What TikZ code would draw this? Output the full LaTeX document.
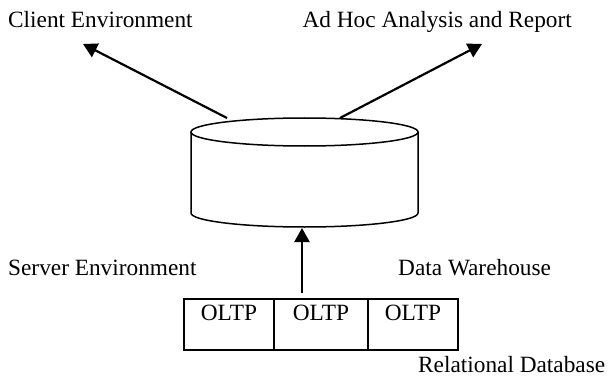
\documentclass[tikz,border=0pt]{standalone}
\usepackage{fontspec}
\setmainfont{Liberation Serif}
\usetikzlibrary{arrows.meta}
\begin{document}
\begin{tikzpicture}[x=1pt,y=-1pt,
  lbl/.style={anchor=base west,inner sep=0pt,font=\fontsize{23.3}{26}\selectfont},
  cell/.style={draw,line width=1.8pt,minimum width=#1,minimum height=51pt,inner sep=0pt,anchor=north west},
  arr/.style={line width=2.2pt,-{Triangle[length=14pt,width=15pt]}},
  db/.style={line width=1.5pt}]
\useasboundingbox (0,0) rectangle (610,377);

% labels
\node[lbl] (client) at (8,28) {Client Environment};
\node[lbl,anchor=base east] (adhoc) at (572,28) {Ad Hoc Analysis and Report};
\node[lbl] (server) at (8,275) {Server Environment};
\node[lbl] (dw) at (398,275) {Data Warehouse};
\node[lbl] (rdb) at (418,372) {Relational Database};

% data warehouse cylinder
\draw[db,fill=white] (191,132) -- (191,213)
  arc[start angle=180,end angle=0,x radius=113.5,y radius=14] -- (418,132);
\draw[db] (304.5,132) ellipse[x radius=113.5,y radius=14];
\coordinate (dbleft) at (227,118);
\coordinate (dbright) at (340,118);
\coordinate (dbbottom) at (302,228);

% OLTP sources
\node[cell=90pt] (o1) at (183,298) {};
\node[cell=94pt] (o2) at (273,298) {};
\node[cell=90pt] (o3) at (367,298) {};
\foreach \c in {o1,o2,o3}
  \node[lbl,anchor=base] at ([yshift=-22pt]\c.north) {OLTP};
\coordinate (srcup) at (302,293);

% data flow
\coordinate (ltip) at (83,44);
\coordinate (rtip) at (482,44);
\draw[arr] (dbleft) -- (ltip);
\draw[arr] (dbright) -- (rtip);
\draw[arr] (srcup) -- (dbbottom);
\end{tikzpicture}
\end{document}
